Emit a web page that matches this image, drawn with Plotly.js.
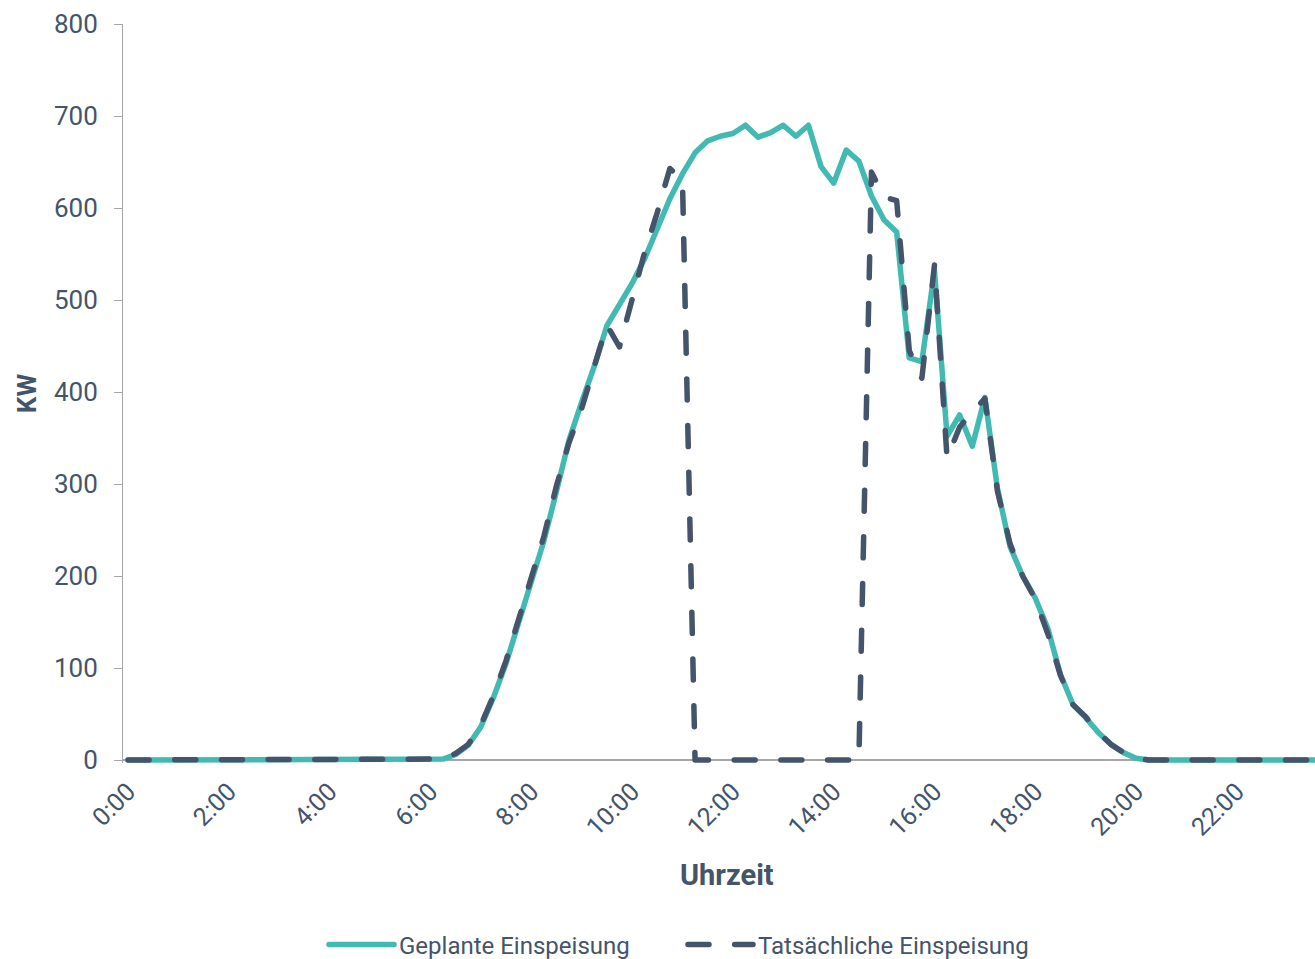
<!DOCTYPE html>
<html>
<head>
<meta charset="utf-8">
<script src="https://cdn.plot.ly/plotly-3.0.1.min.js"></script>
<style>
  html, body { margin: 0; padding: 0; background: #ffffff; overflow: hidden; }
  #chart { width: 1315px; height: 959px; }
  .js-line { stroke-linecap: round !important; stroke-linejoin: round !important; }
</style>
</head>
<body>
<div id="chart"></div>
<script>
// Time of day, 15-minute steps (categories)
const times = [
  "0:00","0:15","0:30","0:45","1:00","1:15","1:30","1:45",
  "2:00","2:15","2:30","2:45","3:00","3:15","3:30","3:45",
  "4:00","4:15","4:30","4:45","5:00","5:15","5:30","5:45",
  "6:00","6:15","6:30","6:45","7:00","7:15","7:30","7:45",
  "8:00","8:15","8:30","8:45","9:00","9:15","9:30","9:45",
  "10:00","10:15","10:30","10:45","11:00","11:15","11:30","11:45",
  "12:00","12:15","12:30","12:45","13:00","13:15","13:30","13:45",
  "14:00","14:15","14:30","14:45","15:00","15:15","15:30","15:45",
  "16:00","16:15","16:30","16:45","17:00","17:15","17:30","17:45",
  "18:00","18:15","18:30","18:45","19:00","19:15","19:30","19:45",
  "20:00","20:15","20:30","20:45","21:00","21:15","21:30","21:45",
  "22:00","22:15","22:30","22:45","23:00","23:15","23:30","23:45"
];

// Tick labels shown on the x axis (every 2 hours)
const tickLabels = ["0:00","2:00","4:00","6:00","8:00","10:00","12:00","14:00","16:00","18:00","20:00","22:00"];

// Planned feed-in (kW)
const geplant = [
  0,0,0,0,0,0,0,0, 0,0,0,0,0,0,0,0, 0,0,0,0,0,0,0,0,
  0,1,6,16,36,68,105,150,
  196,238,292,348,389,428,472,494,
  518,545,578,610,637,660,673,678,
  681,690,677,682,690,678,690,645,
  627,663,651,613,587,574,437,433,
  532,352,375,341,394,295,232,200,
  176,143,93,60,46,30,17,8,
  2,0,0,0,0,0,0,0, 0,0,0,0,0,0,0,0
];

// Actual feed-in (kW)
const tatsaechlich = [
  0,0,0,0,0,0,0,0, 0,0,0,0,0,0,0,0, 0,0,0,0,0,0,0,0,
  0,1,7,17,38,70,108,152,
  200,243,298,345,382,430,473,449,
  502,552,595,643,630,0,0,0,
  0,0,0,0,0,0,0,0,
  0,0,0,639,612,608,445,415,
  538,328,362,378,393,292,235,200,
  175,137,92,60,47,30,17,8,
  2,0,0,0,0,0,0,0, 0,0,0,0,0,0,0,0
];

const seriesNames = ["Geplante Einspeisung", "Tatsächliche Einspeisung"];
const yTicks = [0,100,200,300,400,500,600,700,800];
const xTitle = "Uhrzeit";
const yTitle = "KW";

const textColor = "#44546A";
const axisGray = "#A6A6A6";

const traces = [
  {
    x: times, y: geplant, name: seriesNames[0], type: "scatter", mode: "lines",
    line: { color: "#42B9B1", width: 5.5 }
  },
  {
    x: times, y: tatsaechlich, name: seriesNames[1], type: "scatter", mode: "lines",
    line: { color: "#44546A", width: 5.5, dash: "21px,25.7px" }
  }
];

const layout = {
  width: 1315, height: 959,
  margin: { l: 123, r: 0, t: 24, b: 196, pad: 0, autoexpand: false },
  paper_bgcolor: "#ffffff", plot_bgcolor: "#ffffff",
  font: { family: "Roboto, sans-serif", color: textColor, size: 26 },
  showlegend: true,
  legend: {
    orientation: "h", x: 0.4698, xanchor: "center", y: -0.246, yanchor: "middle",
    font: { size: 24, color: textColor }, itemwidth: 65, traceorder: "normal",
    entrywidth: 279
  },
  xaxis: {
    type: "category", range: [-0.4, 94.2],
    tickmode: "array", tickvals: tickLabels, ticktext: tickLabels,
    tickangle: -45, ticks: "", showline: false, showgrid: false, zeroline: false,
    tickfont: { size: 25, color: textColor }, ticklabelstandoff: 8
  },
  yaxis: {
    range: [-3.26, 800], tickmode: "array", tickvals: yTicks,
    ticks: "outside", ticklen: 8, tickcolor: axisGray, tickwidth: 1,
    showline: true, linecolor: axisGray, linewidth: 1,
    showgrid: false, zeroline: true, zerolinecolor: axisGray, zerolinewidth: 1.5,
    tickfont: { size: 26, color: textColor }, ticklabelstandoff: 11,
    title: { text: "<b>" + yTitle + "</b>", font: { size: 26, color: textColor }, standoff: 9 }
  },
  annotations: [
    {
      xref: "paper", yref: "paper", x: 0.507, y: -0.1516, xanchor: "center", yanchor: "middle",
      text: "<b>" + xTitle + "</b>", showarrow: false, font: { size: 29, color: textColor }
    }
  ]
};

Plotly.newPlot("chart", traces, layout, { staticPlot: true, displayModeBar: false });
</script>
</body>
</html>
